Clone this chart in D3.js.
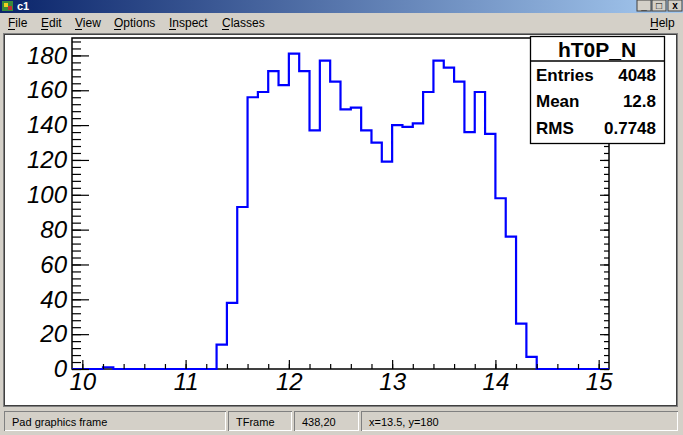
<!DOCTYPE html>
<html><head><meta charset="utf-8">
<script src="https://cdn.jsdelivr.net/npm/d3@7"></script>
<style>
body{margin:0;background:#d4d0c8;overflow:hidden}
svg text{font-family:"Liberation Sans",Arial,sans-serif}
</style>
</head><body><svg id="c" width="683" height="435"></svg>
<script>
// ---- data ----
const binLow = [9.9,10.0,10.1,10.2,10.3,10.4,10.5,10.6,10.7,10.8,10.9,11.0,11.1,11.2,11.3,11.4,11.5,11.6,11.7,11.8,11.9,
  12.0,12.1,12.2,12.3,12.4,12.5,12.6,12.7,12.8,12.9,13.0,13.1,13.2,13.3,13.4,13.5,13.6,13.7,13.8,13.9,
  14.0,14.1,14.2,14.3,14.4,14.5,14.6,14.7,14.8,14.9,15.0];
const counts = [0,0,0,1,0,0,0,0,0,0,0,0,0,0,14,38,93,156,159,171,163,
  181,171,137,177,165,149,150,137,130,119,140,139,141,159,177,173,165,136,159,135,
  98,76,26,7,0,0,0,0,0,0,0];
const binWidth = 0.1;
const xTicks = [10,11,12,13,14,15];
const yTicks = [0,20,40,60,80,100,120,140,160,180];
const statsTitle = "hT0P_N";
const statsRows = [["Entries","4048"],["Mean","12.8"],["RMS","0.7748"]];
const menuItems = ["File","Edit","View","Options","Inspect","Classes"];
const statusTexts = ["Pad graphics frame","TFrame","438,20","x=13.5, y=180"];

const svg = d3.select("#c");
// ---- window chrome ----
const defs = svg.append("defs");
const g1 = defs.append("linearGradient").attr("id","tb");
g1.append("stop").attr("offset","0").attr("stop-color","#0a246a");
g1.append("stop").attr("offset","1").attr("stop-color","#a6caf0");
svg.append("rect").attr("width",683).attr("height",435).attr("fill","#d4d0c8");
svg.append("rect").attr("x",0).attr("y",0).attr("width",683).attr("height",13).attr("fill","url(#tb)");
// icon
svg.append("rect").attr("x",2).attr("y",1).attr("width",11).attr("height",10).attr("fill","#3a8a3a");
svg.append("rect").attr("x",4).attr("y",3).attr("width",4).attr("height",4).attr("fill","#f0d020");
svg.append("rect").attr("x",8).attr("y",6).attr("width",4).attr("height",4).attr("fill","#c03030");
svg.append("text").attr("x",17).attr("y",10).attr("fill","#fff").attr("font-weight","bold").attr("font-size",11).text("c1");
// title buttons
[[637,"_"],[652,"□"],[668,"x"]].forEach(([bx,s])=>{
  svg.append("rect").attr("x",bx).attr("y",0).attr("width",14).attr("height",11).attr("fill","#d4d0c8")
    .attr("stroke","#404040").attr("stroke-width",1);
  svg.append("text").attr("x",bx+7).attr("y",9).attr("text-anchor","middle").attr("font-size",10)
    .attr("font-weight","bold").attr("fill","#000").text(s);
});
// menu
const menuX = [8,41,75,114,169,222];
menuItems.forEach((m,i)=>{
  svg.append("text").attr("x",menuX[i]).attr("y",27).attr("font-size",12).attr("fill","#000").text(m);
  svg.append("line").attr("x1",menuX[i]).attr("x2",menuX[i]+7).attr("y1",29.5).attr("y2",29.5).attr("stroke","#000");
});
svg.append("text").attr("x",650).attr("y",27).attr("font-size",12).text("Help");
svg.append("line").attr("x1",650).attr("x2",658).attr("y1",29.5).attr("y2",29.5).attr("stroke","#000");

// canvas area
svg.append("rect").attr("x",3.5).attr("y",33.5).attr("width",674).attr("height",373).attr("fill","#fff").attr("stroke","#808080");
svg.append("rect").attr("x",4.5).attr("y",34.5).attr("width",672).attr("height",371).attr("fill","none").attr("stroke","#404040");

// status bar
const panels = [[4,226],[228,292],[294,359],[361,678]];
panels.forEach(([a,b],i)=>{
  svg.append("rect").attr("x",a+0.5).attr("y",411.5).attr("width",b-a-1).attr("height",19).attr("fill","#d4d0c8")
    .attr("stroke","#808080");
  svg.append("line").attr("x1",a+1).attr("x2",b-0.5).attr("y1",430.5).attr("y2",430.5).attr("stroke","#fff");
  svg.append("line").attr("x1",b-0.5).attr("x2",b-0.5).attr("y1",412).attr("y2",431).attr("stroke","#fff");
  svg.append("text").attr("x",a+8).attr("y",425.5).attr("font-size",11).attr("fill","#000").text(statusTexts[i]);
});

// ---- plot ----
const X0=72, X1=609, Y0=38, Y1=369;
const x = d3.scaleLinear().domain([9.9,15.1]).range([X0,X1]);
const y = d3.scaleLinear().domain([0,190]).range([Y1,Y0]);
const plot = svg.append("g");

// frame
plot.append("rect").attr("x",X0).attr("y",Y0).attr("width",X1-X0).attr("height",Y1-Y0)
  .attr("fill","none").attr("stroke","#000").attr("stroke-width",1.5);

// histogram
const pts = [[x(binLow[0]), y(0)]];
binLow.forEach((b,i)=>{
  pts.push([x(b), y(counts[i])]);
  pts.push([x(b+binWidth), y(counts[i])]);
});
pts.push([x(binLow[binLow.length-1]+binWidth), y(0)]);
plot.append("path").attr("d", d3.line()(pts)).attr("fill","none").attr("stroke","#0000ff").attr("stroke-width",2.2);

const fontAxis = "24px";
// x axis
const xMinor = d3.range(10,15.01,0.2).map(v=>+v.toFixed(1));
const xa = plot.append("g").attr("transform",`translate(0,${Y1})`);
xa.call(d3.axisBottom(x).tickValues(xMinor).tickSizeInner(-5).tickSizeOuter(0).tickFormat(""));
const xb = plot.append("g").attr("transform",`translate(0,${Y1})`);
xb.call(d3.axisBottom(x).tickValues(xTicks).tickSizeInner(-9).tickSizeOuter(0).tickPadding(4).tickFormat(d3.format("d")));
[xa,xb].forEach(g=>{g.select(".domain").remove(); g.selectAll("line").attr("stroke","#000").attr("stroke-width",1.2);});
xb.selectAll("text").attr("font-size",fontAxis).attr("font-style","italic").attr("font-family","Liberation Sans, Arial").attr("fill","#000");

// y axis left
const yMinor = d3.range(0,190,4);
const ya = plot.append("g").attr("transform",`translate(${X0},0)`);
ya.call(d3.axisLeft(y).tickValues(yMinor).tickSizeInner(-9).tickSizeOuter(0).tickFormat(""));
const yb = plot.append("g").attr("transform",`translate(${X0},0)`);
yb.call(d3.axisLeft(y).tickValues(yTicks).tickSizeInner(-17).tickSizeOuter(0).tickPadding(5).tickFormat(d3.format("d")));
// y axis right ticks
const yc = plot.append("g").attr("transform",`translate(${X1},0)`);
yc.call(d3.axisRight(y).tickValues(yMinor).tickSizeInner(-5).tickSizeOuter(0).tickFormat(""));
const yd = plot.append("g").attr("transform",`translate(${X1},0)`);
yd.call(d3.axisRight(y).tickValues(yTicks).tickSizeInner(-9).tickSizeOuter(0).tickFormat(""));
[ya,yb,yc,yd].forEach(g=>{g.select(".domain").remove(); g.selectAll("line").attr("stroke","#000").attr("stroke-width",1.2);});
yb.selectAll("text").attr("font-size",fontAxis).attr("font-style","italic").attr("font-family","Liberation Sans, Arial").attr("fill","#000");

// ---- stats box ----
const SB = {x0:530, x1:664, y0:36, y1:143, line:61};
svg.append("rect").attr("x",SB.x0+0.5).attr("y",SB.y0+0.5).attr("width",SB.x1-SB.x0).attr("height",SB.y1-SB.y0)
  .attr("fill","#fff").attr("stroke","#000").attr("stroke-width",1.3);
svg.append("line").attr("x1",SB.x0).attr("x2",SB.x1).attr("y1",SB.line).attr("y2",SB.line).attr("stroke","#000").attr("stroke-width",1.3);
svg.append("text").attr("x",(SB.x0+SB.x1)/2).attr("y",57).attr("text-anchor","middle")
  .attr("font-size",21).attr("font-weight","bold").text(statsTitle);
const rowY = [81,107,134];
statsRows.forEach((r,i)=>{
  svg.append("text").attr("x",536).attr("y",rowY[i]).attr("font-size",17).attr("font-weight","bold").text(r[0]);
  svg.append("text").attr("x",656).attr("y",rowY[i]).attr("text-anchor","end").attr("font-size",17).attr("font-weight","bold").text(r[1]);
});
</script></body></html>
